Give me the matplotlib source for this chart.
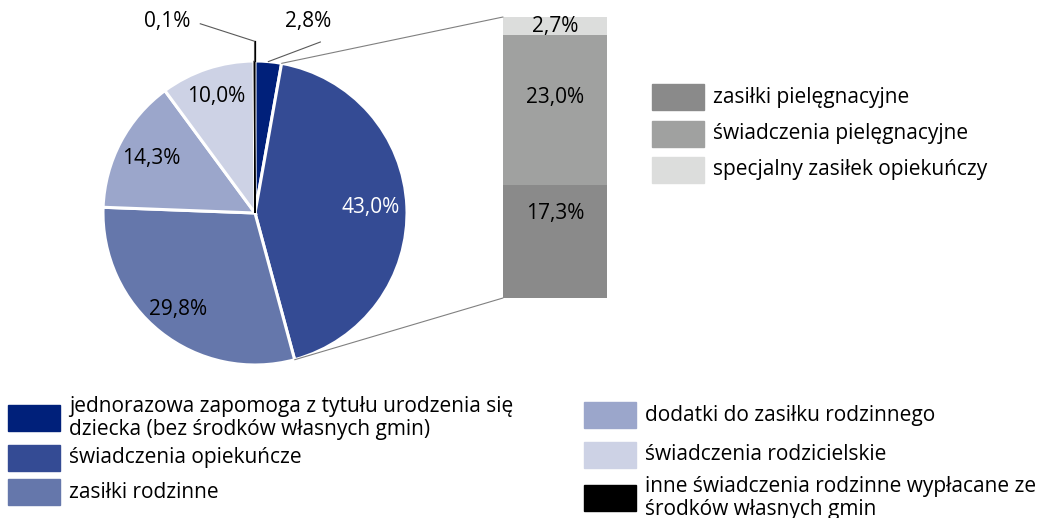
import numpy as np
import matplotlib
matplotlib.use("Agg")
import matplotlib.pyplot as plt
from matplotlib.patches import ConnectionPatch, Rectangle

plt.rcParams['font.family'] = ['Open Sans', 'DejaVu Sans']

# pie data (clockwise from top)
pie_labels = ["jednorazowa zapomoga z tytułu urodzenia się\ndziecka (bez środków własnych gmin)",
              "świadczenia opiekuńcze",
              "zasiłki rodzinne",
              "dodatki do zasiłku rodzinnego",
              "świadczenia rodzicielskie",
              "inne świadczenia rodzinne wypłacane ze\nśrodków własnych gmin"]
pie_values = [2.8, 43.0, 29.8, 14.3, 10.0, 0.1]
pie_colors = ["#00207a", "#344b94", "#6577ab", "#9ba6cb", "#cdd2e5", "#000000"]

# breakdown of "świadczenia opiekuńcze"
bar_labels = ["zasiłki pielęgnacyjne", "świadczenia pielęgnacyjne", "specjalny zasiłek opiekuńczy"]
bar_values = [17.3, 23.0, 2.7]
bar_colors = ["#8a8a8a", "#a0a1a0", "#dcdddc"]

W, H = 1037, 518
fig = plt.figure(figsize=(W / 100, H / 100), dpi=100)
FS = 15


def fmt(v):
    return f"{v:.1f}%".replace(".", ",")


# ---- pie ----
ax = fig.add_axes([102 / W, (H - 365) / H, 306 / W, 304 / H])
wedges, _ = ax.pie(pie_values, colors=pie_colors, startangle=90, counterclock=False,
                   wedgeprops=dict(edgecolor="white", linewidth=2.2))
wedges[-1].set_edgecolor("black")
wedges[-1].set_linewidth(0.8)
ax.set_xlim(-1, 1)
ax.set_ylim(-1, 1)

# inside labels
inside = {1: (0.76, "white"), 2: (0.81, "black"), 3: (0.77, "black"), 4: (0.81, "black")}
for i, (dist, col) in inside.items():
    w = wedges[i]
    ang = np.deg2rad((w.theta1 + w.theta2) / 2)
    ax.text(dist * np.cos(ang), dist * np.sin(ang), fmt(pie_values[i]),
            ha="center", va="center", color=col, fontsize=FS)

# outside labels with leader lines
w = wedges[0]
ang = np.deg2rad((w.theta1 + w.theta2) / 2)
ax.plot([np.cos(ang), 0.43], [np.sin(ang), 1.125], color="#595959", lw=0.8, clip_on=False)
ax.text(0.35, 1.26, fmt(pie_values[0]), ha="center", va="center", fontsize=FS)

w = wedges[5]
ang = np.deg2rad((w.theta1 + w.theta2) / 2)
x0 = np.cos(ang)
ax.plot([x0, x0, -0.36], [np.sin(ang), 1.13, 1.245], color="#595959", lw=0.8, clip_on=False)
ax.plot([x0, x0], [np.sin(ang), 1.13], color="black", lw=0.9, clip_on=False)
ax.text(-0.58, 1.26, fmt(pie_values[5]), ha="center", va="center", fontsize=FS)

# ---- stacked bar ----
axb = fig.add_axes([503 / W, (H - 298) / H, 104 / W, 281 / H])
bottom = 0
label_pos = [0.75, 0.585, 0.45]
for v, c, f in zip(bar_values, bar_colors, label_pos):
    axb.bar(0, v, width=1, bottom=bottom, color=c)
    axb.text(0, bottom + v * f, fmt(v), ha="center", va="center", fontsize=FS)
    bottom += v
axb.set_xlim(-0.5, 0.5)
axb.set_ylim(0, sum(bar_values))
axb.axis("off")

# connection lines (theta2 is the top edge, theta1 the bottom edge)
w = wedges[1]
for theta, yb in [(w.theta2, sum(bar_values)), (w.theta1, 0)]:
    t = np.deg2rad(theta)
    con = ConnectionPatch(xyA=(-0.5, yb), coordsA=axb.transData,
                          xyB=(np.cos(t), np.sin(t)), coordsB=ax.transData,
                          color="#808080", lw=0.8)
    fig.add_artist(con)

# ---- legends (pixel overlay) ----
axl = fig.add_axes([0, 0, 1, 1])
axl.set_xlim(0, W)
axl.set_ylim(H, 0)
axl.axis("off")


def legend_item(x, y, color, text):
    axl.add_patch(Rectangle((x, y - 13), 52, 26, color=color))
    axl.text(x + 61, y, text, ha="left", va="center", fontsize=FS, linespacing=1.12)


for i, (lab, c) in enumerate(zip(bar_labels, bar_colors)):
    legend_item(652, 97 + 36.5 * i, c, lab)

left_y = [418, 458, 492]
for i in range(3):
    legend_item(8, left_y[i], pie_colors[i], pie_labels[i])
right_y = [415, 455, 498]
for i in range(3):
    legend_item(584, right_y[i], pie_colors[3 + i], pie_labels[3 + i])

fig.savefig("out.png", dpi=100)
